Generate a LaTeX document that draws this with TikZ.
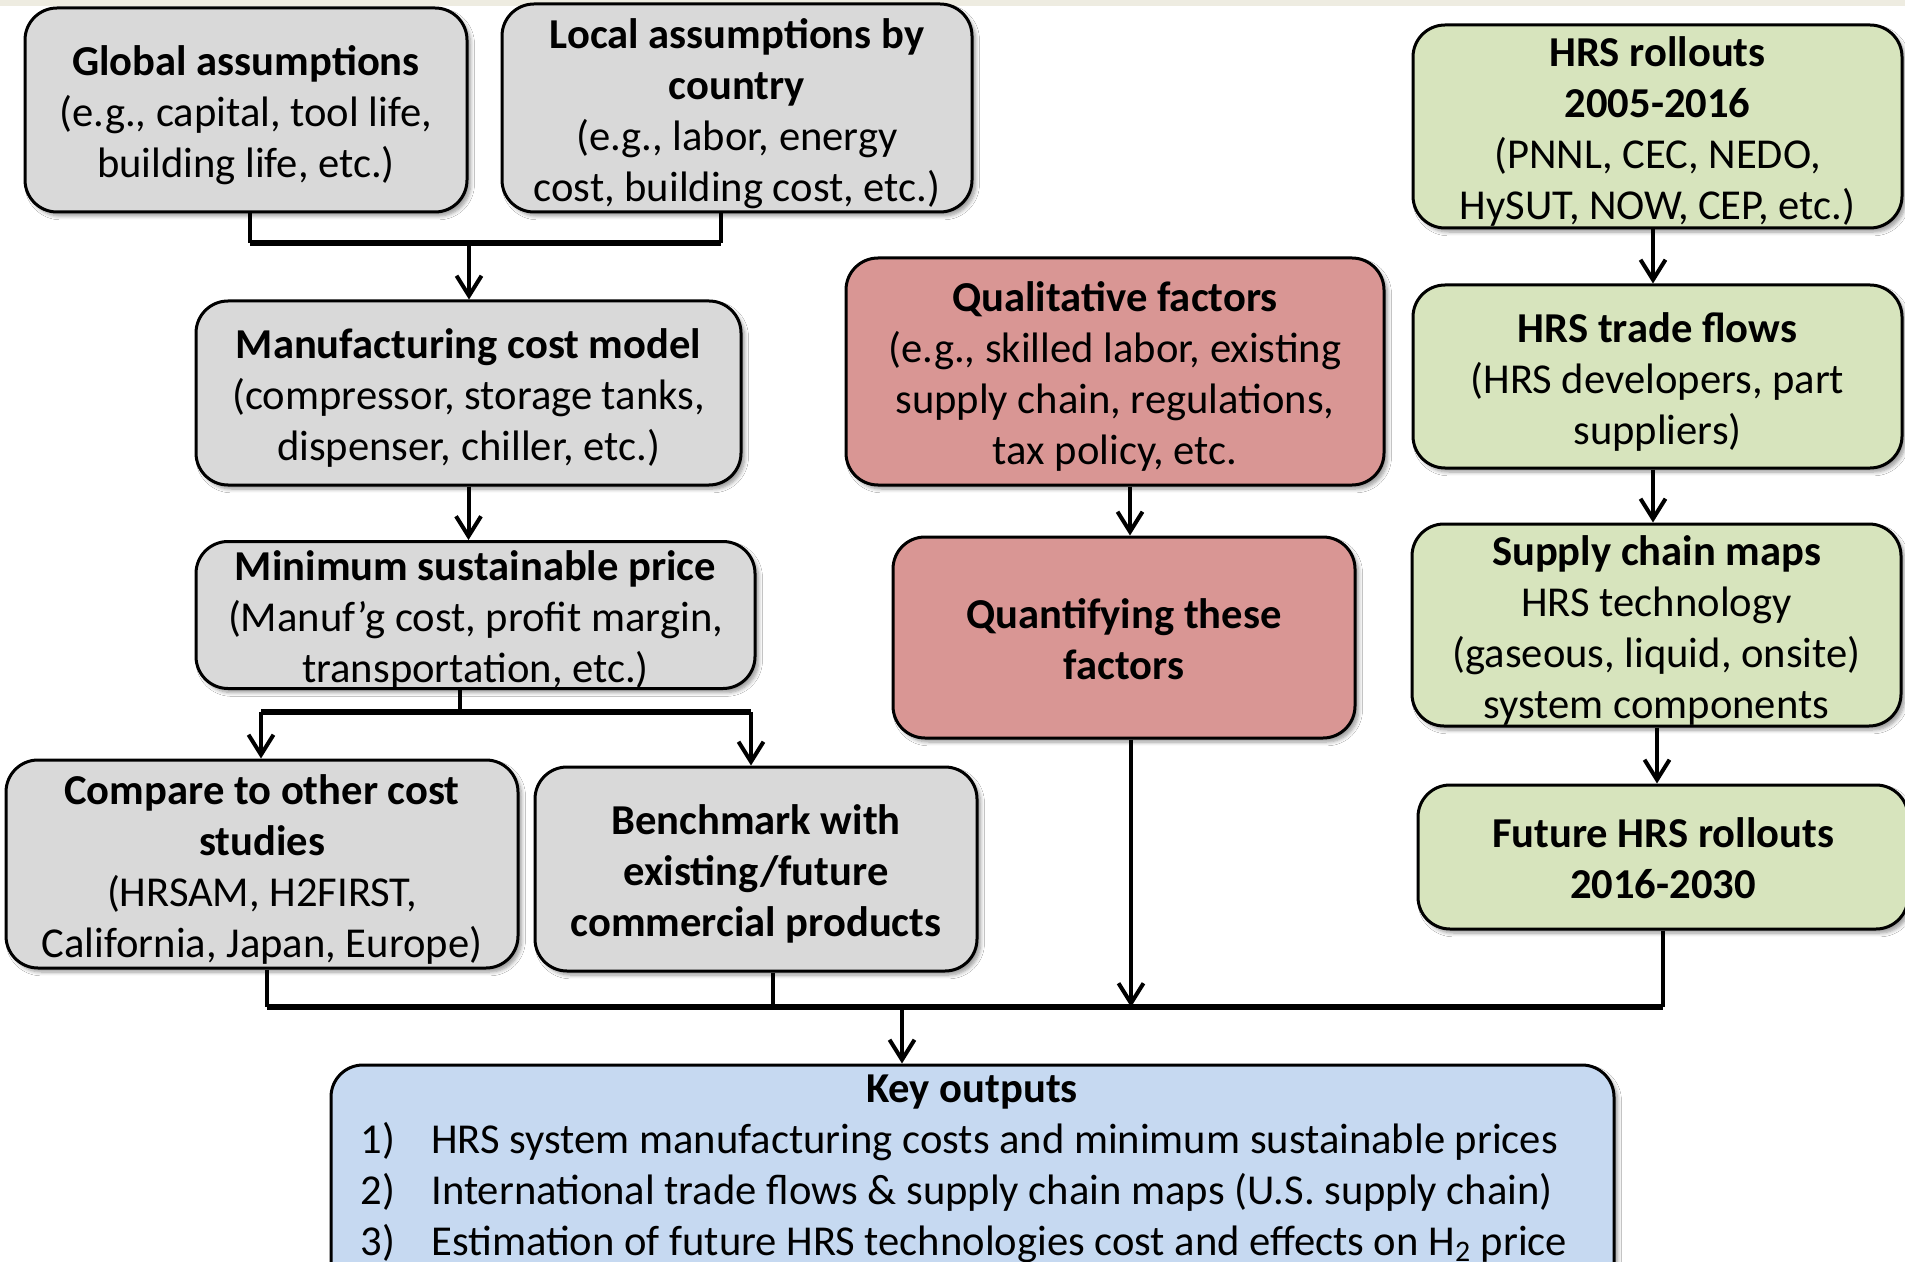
\documentclass[tikz,border=0pt]{standalone}
\usepackage{fontspec}
\setmainfont{Carlito}
\usetikzlibrary{arrows.meta,shadows.blur}

\definecolor{greyfill}{HTML}{D9D9D9}
\definecolor{redfill}{HTML}{D99694}
\definecolor{greenfill}{HTML}{D7E4BD}
\definecolor{bluefill}{HTML}{C6D9F1}
\definecolor{topband}{HTML}{EEECE1}

\newcommand\mainsz{\fontsize{21.3}{25.5}\selectfont}

\tikzset{
  wh/.style 2 args={minimum width=#1*0.5pt, minimum height=#2*0.5pt},
  box/.style={draw=black, line width=1.5pt, rounded corners=16pt, inner sep=0pt,
    blur shadow={shadow xshift=1.8pt, shadow yshift=-2pt, shadow blur steps=6, shadow opacity=40}},
  greybox/.style={box, fill=greyfill},
  redbox/.style={box, fill=redfill},
  greenbox/.style={box, fill=greenfill},
  bluebox/.style={box, fill=bluefill},
  boxtext/.style={align=center, inner sep=0pt, font=\mainsz},
  conn/.style={line width=2pt, draw=black},
  bus/.style={line width=2.8pt, draw=black},
  arr/.style={conn, -{Straight Barb[length=10pt, width=12.5pt]}},
  keytxt/.style={font=\mainsz, inner sep=0pt},
}

% a rounded box ([text shift], style, name, centre x, centre y, width, height) and its centred text
\newcommand\flowbox[8][-2.6pt]{%
  \node[#2, wh={#6}{#7}] (#3) at (#4,#5) {};
  \node[boxtext] (#3-t) at ([yshift=#1]#3.center) {#8};
}

\begin{document}
\begin{tikzpicture}[x={(0.5pt,0)}, y={(0,-0.5pt)}]
  \useasboundingbox (0,0) rectangle (1905,1262);
  \clip (0,0) rectangle (1905,1262);
  \fill[white] (0,0) rectangle (1905,1262);
  \fill[topband] (0,0) rectangle (1905,6);

  % ---- left column: cost model chain ----
  \flowbox{greybox}{glob}{246}{110}{442}{204}
    {\textbf{Global assumptions}\\(e.g., capital, tool life,\\building life, etc.)}
  \flowbox{greybox}{loc}{737}{108}{470}{208}
    {\textbf{Local assumptions by}\\\textbf{country}\\(e.g., labor, energy\\cost, building cost, etc.)}
  \flowbox{greybox}{mfg}{468.5}{393}{545}{184}
    {\textbf{Manufacturing cost model}\\(compressor, storage tanks,\\dispenser, chiller, etc.)}
  \flowbox{greybox}{mp}{475.5}{615}{559}{147}
    {\textbf{Minimum sustainable price}\\(Manuf’g cost, profit margin,\\transportation, etc.)}
  \flowbox{greybox}{cmp}{262}{864}{512}{208}
    {\textbf{Compare to other cost}\\\textbf{studies}\\(HRSAM, H2FIRST,\\California, Japan, Europe)}
  \flowbox{greybox}{bm}{756}{869}{442}{204}
    {\textbf{Benchmark with}\\\textbf{existing/future}\\\textbf{commercial products}}

  % ---- middle column: qualitative factors ----
  \flowbox{redbox}{qual}{1115}{371.5}{538}{227}
    {\textbf{Qualitative factors}\\(e.g., skilled labor, existing\\supply chain, regulations,\\tax policy, etc.}
  \flowbox[-0.8pt]{redbox}{quant}{1124}{637.5}{462}{201}
    {\textbf{Quantifying these}\\\textbf{factors}}

  % ---- right column: rollouts and supply chain ----
  \flowbox{greenbox}{roll}{1657.5}{126.5}{489}{203}
    {\textbf{HRS rollouts}\\\textbf{2005-2016}\\(PNNL, CEC, NEDO,\\HySUT, NOW, CEP, etc.)}
  \flowbox{greenbox}{trade}{1657.5}{376.5}{489}{183}
    {\textbf{HRS trade flows}\\(HRS developers, part\\suppliers)}
  \flowbox{greenbox}{sup}{1656.5}{625}{489}{202}
    {\textbf{Supply chain maps}\\HRS technology\\(gaseous, liquid, onsite)\\system components}
  \flowbox[-0.8pt]{greenbox}{fut}{1663}{857}{490}{144}
    {\textbf{Future HRS rollouts}\\\textbf{2016-2030}}

  % ---- outputs ----
  \node[bluebox, wh={1283}{240}] (key) at (972.5,1185) {};
  \node[keytxt, anchor=base] (keyhead) at (972,1102) {\textbf{Key outputs}};
  \node[keytxt, anchor=base west] (k1) at (360,1153)
    {\makebox[35.5pt][l]{1)}HRS system manufacturing costs and minimum sustainable prices};
  \node[keytxt, anchor=base west] (k2) at (360,1204)
    {\makebox[35.5pt][l]{2)}International trade flows \& supply chain maps (U.S. supply chain)};
  \node[keytxt, anchor=base west] (k3) at (360,1255)
    {\makebox[35.5pt][l]{3)}Estimation of future HRS technologies cost and effects on H\textsubscript{2} price};

  % ---- junction points ----
  \coordinate (ga) at (250,243);
  \coordinate (la) at (721,243);
  \coordinate (ja) at (469,243);
  \coordinate (mb) at (460,712);
  \coordinate (cb) at (261,712);
  \coordinate (bb) at (751,712);
  \coordinate (qa) at (1130,0);
  \coordinate (cs) at (267,1007);
  \coordinate (bs) at (773,1007);
  \coordinate (qs) at (1131,1007);
  \coordinate (ks) at (902,1007);
  \coordinate (fs) at (1663,1007);

  % ---- connectors: assumptions into the cost model ----
  \draw[conn] (ga |- glob.south) -- (ga);
  \draw[conn] (la |- loc.south) -- (la);
  \draw[bus] (ga) -- (la);
  \draw[arr] (ja) -- (ja |- mfg.north);
  \draw[arr] (mfg.south) -- (mfg.south |- mp.north);

  % ---- connectors: price to comparisons ----
  \draw[conn] (mb |- mp.south) -- (mb);
  \draw[bus] (cb) -- (bb);
  \draw[arr] (cb) -- (cb |- cmp.north);
  \draw[arr] (bb) -- (bb |- bm.north);

  % ---- middle and right chains ----
  \draw[arr] (qa |- qual.south) -- (qa |- quant.north);
  \draw[arr] (roll.south -| 1653,0) -- (trade.north -| 1653,0);
  \draw[arr] (trade.south -| 1653,0) -- (sup.north -| 1653,0);
  \draw[arr] (sup.south -| 1657,0) -- (fut.north -| 1657,0);

  % ---- everything into the key outputs ----
  \draw[conn] (cs |- cmp.south) -- (cs);
  \draw[conn] (bs |- bm.south) -- (bs);
  \draw[conn] (fs |- fut.south) -- (fs);
  \draw[bus] (cs) -- (fs);
  \draw[arr] (qs |- quant.south) -- (qs);
  \draw[arr] (ks) -- (ks |- key.north);
\end{tikzpicture}
\end{document}
